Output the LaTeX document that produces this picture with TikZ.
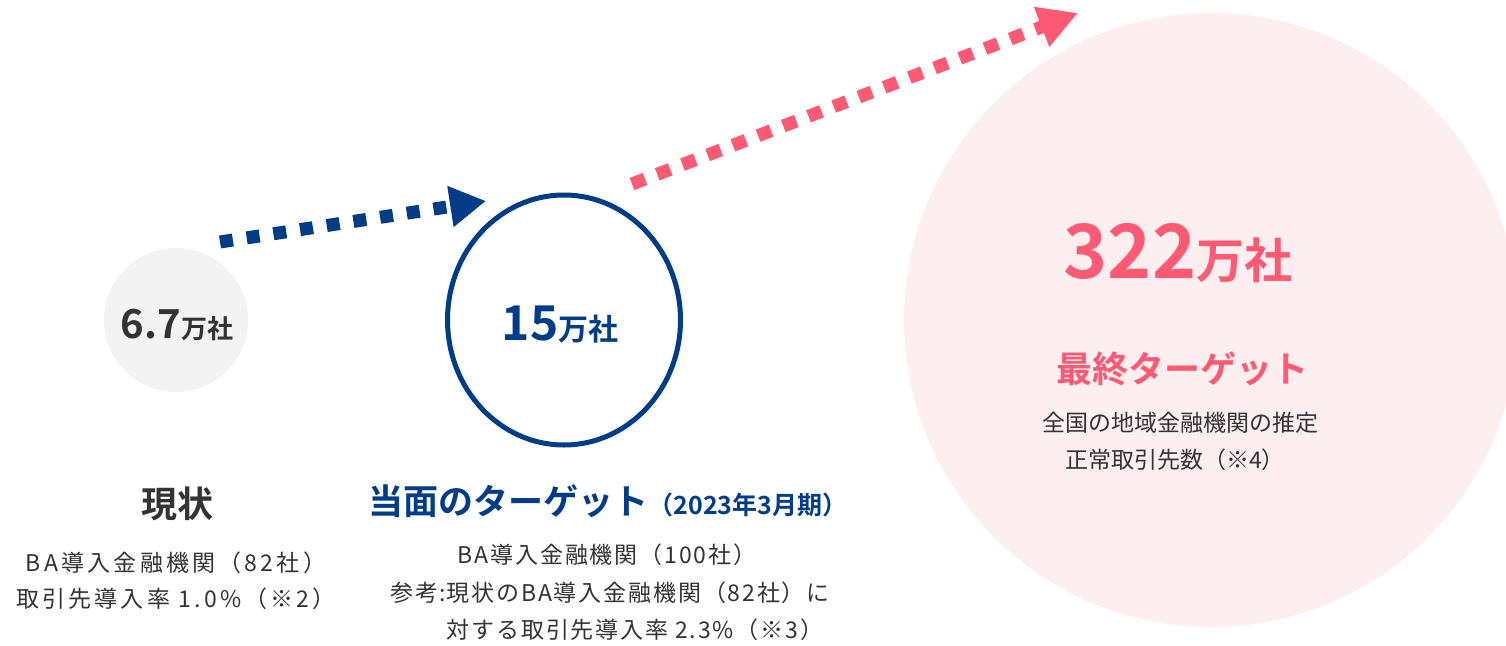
\documentclass[tikz,border=0pt]{standalone}
\usepackage{fontspec}
\setmainfont{Noto Sans CJK JP}[BoldFont={Noto Sans CJK JP Bold}]
\usetikzlibrary{arrows.meta,positioning,shapes.geometric}
\definecolor{navy}{RGB}{0,61,134}
\definecolor{rose}{RGB}{255,90,115}
\definecolor{blush}{RGB}{253,238,240}
\definecolor{mist}{RGB}{243,243,243}
\definecolor{ink}{RGB}{51,51,51}
\newcommand{\fs}[1]{\fontsize{#1}{#1}\selectfont}

\begin{document}
\begin{tikzpicture}
			[x=1pt, y=-1pt, inner sep=0pt,
			 note/.style = {text=ink, font=\fs{23}\addfontfeature{LetterSpace=#1}, anchor=base},
			 note/.default = 0,
			 big/.style = {font=\bfseries, anchor=base},
			 dots/.style = {line width=13pt, dash pattern=on 13pt off 14pt}]
			\useasboundingbox (0,0) rectangle (1506,645);
			\begin{scope}
			\clip (0,0) rectangle (1506,645);
			\node[circle, fill=blush, minimum size=614pt] (final) at (1211,320) {};
			\end{scope}
			\node[circle, fill=mist, minimum size=144pt] (now) at (176,320) {};
			\node[ellipse, draw=navy, line width=5pt, minimum width=233pt, minimum height=250pt] (goal) at (564,320) {};
			\node[big, text=ink] (nowval) at (177,338) {\fs{40}6.7\fs{26}万社};
			\node[big, text=navy] (goalval) at (560,340) {\fs{48}15\fs{30}万社};
			\node[big, text=rose] (finalval) at (1178,278) {\fs{75}322\fs{48}万社};
			\node[big, text=ink, font=\bfseries\fs{36}] (nowtitle) at (177,517) {現状};
			\node[note=14] (now1) at (176,571) {BA導入金融機関（82社）};
			\node[note=14] (now2) at (176,607) {取引先導入率 1.0\%（※2）};
			\node[big, text=navy] (goaltitle) at (608,514) {\fs{35}当面のターゲット\fs{25}（2023年3月期）};
			\node[note=8] (goal1) at (607,563) {BA導入金融機関（100社）};
			\node[note=8, anchor=base west] (goal2) at (390,601) {参考:};
			\node[note=8, anchor=base west] (goal2b) at (goal2.base east) {現状のBA導入金融機関（82社）に};
			\node[note=8, anchor=base west] (goal3) at ([yshift=-37pt]goal2b.base west) {対する取引先導入率 2.3\%（※3）};
			\node[big, text=rose, font=\bfseries\fs{36}] (finaltitle) at (1182,382) {最終ターゲット};
			\node[note] (final1) at (1180,431) {全国の地域金融機関の推定};
			\node[note] (final2) at (1175,468) {正常取引先数（※4）};
			\coordinate (b0) at (220,242);
			\coordinate (b1) at (486,201);
			\coordinate (p0) at (632,184);
			\coordinate (p1) at (1078,13);
			\draw[navy, dots, -{Triangle[length=36pt,width=39pt]}] (b0) -- (b1);
			\draw[rose, dots, dash pattern=on 14pt off 13pt, -{Triangle[length=39pt,width=40pt]}] (p0) -- (p1);
		\end{tikzpicture}
\end{document}
